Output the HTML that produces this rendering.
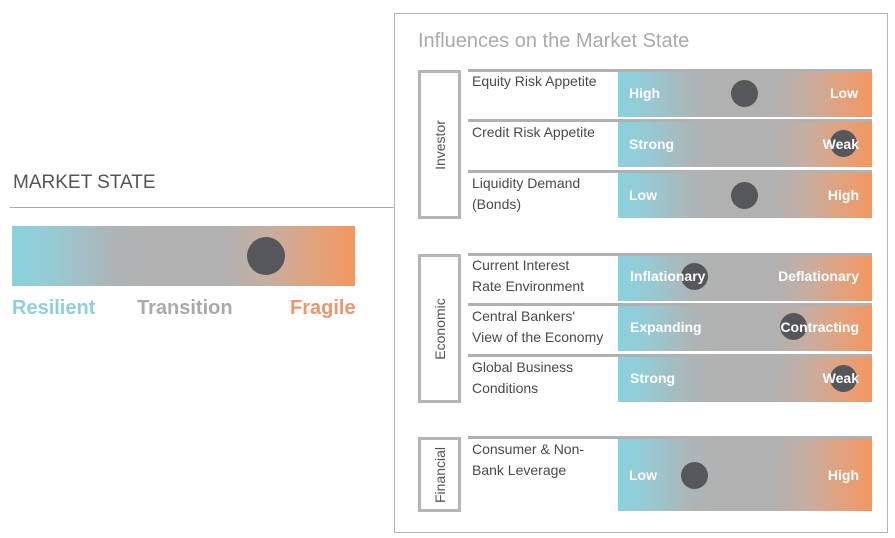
<!DOCTYPE html>
<html><head><meta charset="utf-8"><style>
*{margin:0;padding:0;box-sizing:border-box}
body{width:895px;height:538px;background:#fff;position:relative;overflow:hidden;font-family:"Liberation Sans",sans-serif}
.a{position:absolute}
.grad{background:linear-gradient(90deg,#8ad1dd 0%,#94ccd6 10%,#aeb4b6 30%,#b1b1b1 40%,#b1b1b1 62%,#c7aea0 75%,#e2a27e 88%,#f2975f 100%)}
.dot{position:absolute;border-radius:50%;background:#56575b}
.grp{position:absolute;left:418px;width:43px;border:3px solid #b5b5b5}
.grp span{position:absolute;left:50%;top:50%;transform:translate(-50%,-50%) rotate(-90deg);font-size:14px;color:#555;white-space:nowrap}
.line{position:absolute;left:468px;width:404px;height:3px;background:#b1b1b1}
.lab{position:absolute;left:472px;font-size:14px;line-height:21px;color:#4a4a4a}
.bar{position:absolute;left:618px;width:254px}
.bt{position:absolute;font-size:14px;font-weight:bold;color:#fff;line-height:16px;z-index:2}
</style></head><body>
<div class="a" style="left:13px;top:172px;font-size:19px;color:#555;">MARKET STATE</div>
<div class="a" style="left:10px;top:207px;width:384px;height:1px;background:#aaa"></div>
<div class="a grad" style="left:12px;top:226px;width:343px;height:60px"></div>
<div class="dot" style="left:247px;top:237px;width:38px;height:38px"></div>
<div class="a" style="left:12px;top:297px;font-size:20px;color:#8dd0dc;font-weight:bold">Resilient</div>
<div class="a" style="left:137px;top:297px;font-size:20px;color:#aaa;font-weight:bold">Transition</div>
<div class="a" style="left:290px;top:297px;font-size:20px;color:#f0956a;font-weight:bold">Fragile</div>

<div class="a" style="left:394px;top:13px;width:494px;height:520px;border:1px solid #b5b5b5"></div>
<div class="a" style="left:418px;top:30px;font-size:20px;color:#aaa">Influences on the Market State</div>

<div class="grp" style="top:70px;height:149px"><span>Investor</span></div>
<div class="grp" style="top:254px;height:149px"><span>Economic</span></div>
<div class="grp" style="top:437px;height:75px"><span>Financial</span></div>

<div class="line" style="top:69px"></div>
<div class="line" style="top:119px"></div>
<div class="line" style="top:170px"></div>
<div class="line" style="top:253px"></div>
<div class="line" style="top:303px"></div>
<div class="line" style="top:354px"></div>
<div class="line" style="top:436px"></div>

<div class="lab" style="top:71px">Equity Risk Appetite</div>
<div class="lab" style="top:122px">Credit Risk Appetite</div>
<div class="lab" style="top:173px">Liquidity Demand<br>(Bonds)</div>
<div class="lab" style="top:255px">Current Interest<br>Rate Environment</div>
<div class="lab" style="top:306px">Central Bankers'<br>View of the Economy</div>
<div class="lab" style="top:357px">Global Business<br>Conditions</div>
<div class="lab" style="top:439px">Consumer &amp; Non-<br>Bank Leverage</div>

<div class="bar grad" style="top:72px;height:45px"></div>
<div class="bar grad" style="top:122px;height:45px"></div>
<div class="bar grad" style="top:173px;height:45px"></div>
<div class="bar grad" style="top:256px;height:45px"></div>
<div class="bar grad" style="top:306px;height:45px"></div>
<div class="bar grad" style="top:357px;height:45px"></div>
<div class="bar grad" style="top:439px;height:72px"></div>

<div class="dot" style="left:731px;top:80px;width:27px;height:27px"></div>
<div class="dot" style="left:830px;top:130px;width:27px;height:27px"></div>
<div class="dot" style="left:731px;top:182px;width:27px;height:27px"></div>
<div class="dot" style="left:681px;top:263px;width:27px;height:27px"></div>
<div class="dot" style="left:780px;top:313px;width:27px;height:27px"></div>
<div class="dot" style="left:830px;top:365px;width:27px;height:27px"></div>
<div class="dot" style="left:681px;top:462px;width:27px;height:27px"></div>

<div class="bt" style="left:629px;top:85px">High</div>
<div class="bt" style="right:37px;top:85px">Low</div>
<div class="bt" style="left:629px;top:136px">Strong</div>
<div class="bt" style="right:36px;top:136px">Weak</div>
<div class="bt" style="left:629px;top:187px">Low</div>
<div class="bt" style="right:36px;top:187px">High</div>
<div class="bt" style="left:630px;top:268px">Inflationary</div>
<div class="bt" style="right:36px;top:268px">Deflationary</div>
<div class="bt" style="left:630px;top:319px">Expanding</div>
<div class="bt" style="right:36px;top:319px">Contracting</div>
<div class="bt" style="left:630px;top:370px">Strong</div>
<div class="bt" style="right:36px;top:370px">Weak</div>
<div class="bt" style="left:629px;top:467px">Low</div>
<div class="bt" style="right:36px;top:467px">High</div>
</body></html>
